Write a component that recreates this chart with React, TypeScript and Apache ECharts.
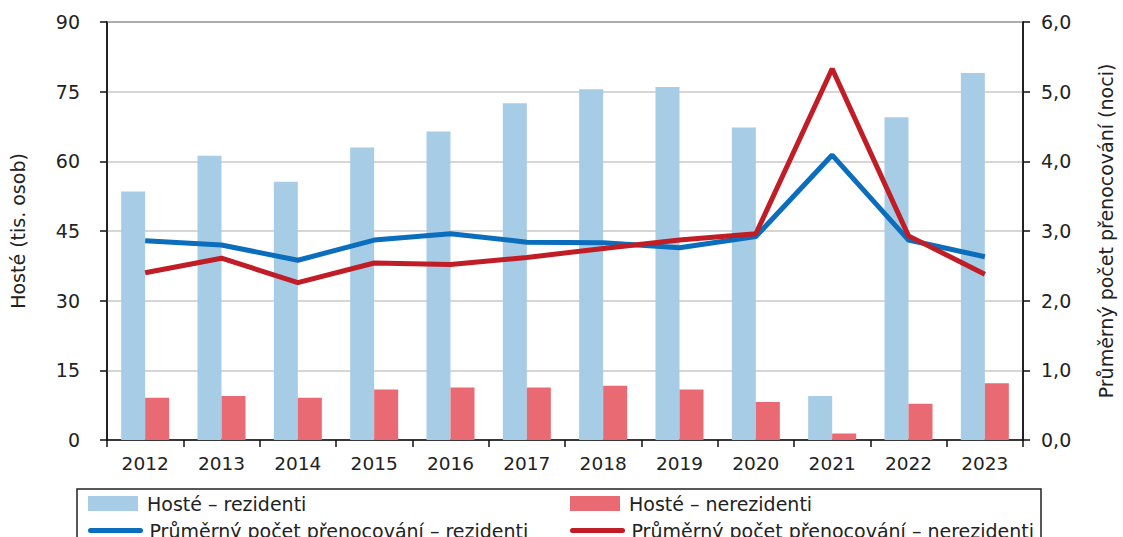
import React, { useEffect, useRef } from "react";
import * as echarts from "echarts";

const years = ["2012", "2013", "2014", "2015", "2016", "2017", "2018", "2019", "2020", "2021", "2022", "2023"];
const guestsResidents = [53.5, 61.2, 55.6, 63.0, 66.4, 72.5, 75.5, 76.0, 67.3, 9.5, 69.5, 79.0];
const guestsNonResidents = [9.1, 9.5, 9.1, 10.9, 11.3, 11.3, 11.7, 10.9, 8.2, 1.4, 7.8, 12.2];
const nightsResidents = [2.86, 2.8, 2.58, 2.87, 2.96, 2.84, 2.83, 2.76, 2.92, 4.09, 2.87, 2.63];
const nightsNonResidents = [2.4, 2.61, 2.26, 2.54, 2.52, 2.62, 2.75, 2.87, 2.96, 5.33, 2.93, 2.38];

const nameGR = "Hosté – rezidenti";
const nameGN = "Hosté – nerezidenti";
const nameNR = "Průměrný počet přenocování – rezidenti";
const nameNN = "Průměrný počet přenocování – nerezidenti";

const FONT = "DejaVu Sans";
const TXT = "#222";

export default function App() {
  const ref = useRef<HTMLDivElement>(null);
  useEffect(() => {
    if (!ref.current) return;
    const chart = echarts.init(ref.current, null, { renderer: "svg" });
    const legendBase = {
      orient: "horizontal",
      padding: 0,
      itemWidth: 50,
      itemHeight: 15,
      textStyle: { fontFamily: FONT, fontSize: 19, lineHeight: 16, color: TXT, padding: [0, 0, 0, 4] },
    };
    chart.setOption({
      animation: false,
      backgroundColor: "#fff",
      textStyle: { fontFamily: FONT, color: TXT },
      grid: {
        left: 101,
        right: 86,
        top: 22,
        bottom: 97,
        show: true,
        borderColor: "#222",
        borderWidth: 1.5,
        backgroundColor: "transparent",
      },
      legend: [
        { ...legendBase, left: 88, top: 494, data: [{ name: nameGR, icon: "rect" }] },
        { ...legendBase, left: 570, top: 494, data: [{ name: nameGN, icon: "rect" }] },
        {
          ...legendBase,
          left: 88,
          top: 521,
          data: [{ name: nameNR, itemStyle: { opacity: 0 }, lineStyle: { width: 5, cap: "round" } }],
        },
        {
          ...legendBase,
          left: 570,
          top: 521,
          data: [{ name: nameNN, itemStyle: { opacity: 0 }, lineStyle: { width: 5, cap: "round" } }],
        },
      ],
      graphic: [
        {
          type: "rect",
          shape: { x: 77, y: 489, width: 964, height: 60 },
          style: { fill: "none", stroke: "#222", lineWidth: 1.5 },
          silent: true,
        },
      ],
      xAxis: {
        type: "category",
        data: years,
        axisLine: { lineStyle: { color: "#111", width: 1.5 } },
        axisTick: { show: true, length: 7, lineStyle: { color: "#111", width: 1.5 } },
        axisLabel: { fontFamily: FONT, fontSize: 18.5, color: TXT, margin: 14 },
        splitLine: { show: false },
      },
      yAxis: [
        {
          type: "value",
          min: 0,
          max: 90,
          interval: 15,
          name: "Hosté (tis. osob)",
          nameLocation: "middle",
          nameRotate: 90,
          nameGap: 80,
          nameTextStyle: { fontFamily: FONT, fontSize: 19, color: TXT },
          axisLine: { show: true, lineStyle: { color: "#111", width: 1.5 } },
          axisTick: { show: true, length: 7, lineStyle: { color: "#111", width: 1.5 } },
          axisLabel: { fontFamily: FONT, fontSize: 19, color: TXT, margin: 27 },
          splitLine: { show: true, lineStyle: { color: "#c8c8c8", width: 1.5 } },
        },
        {
          type: "value",
          min: 0,
          max: 6,
          interval: 1,
          position: "right",
          name: "Průměrný počet přenocování (noci)",
          nameLocation: "middle",
          nameRotate: 90,
          nameGap: 73,
          nameTextStyle: { fontFamily: FONT, fontSize: 19, color: TXT },
          axisLine: { show: true, lineStyle: { color: "#111", width: 1.5 } },
          axisTick: { show: true, length: 7, lineStyle: { color: "#111", width: 1.5 } },
          axisLabel: {
            fontFamily: FONT,
            fontSize: 19,
            color: TXT,
            margin: 18,
            formatter: (v: number) => v.toFixed(1).replace(".", ","),
          },
          splitLine: { show: false },
        },
      ],
      series: [
        {
          name: nameGR,
          type: "bar",
          data: guestsResidents,
          barWidth: 24,
          barGap: "0%",
          itemStyle: { color: "#a7cce6" },
        },
        {
          name: nameGN,
          type: "bar",
          data: guestsNonResidents,
          barWidth: 24,
          barGap: "0%",
          itemStyle: { color: "#e96a72" },
        },
        {
          name: nameNR,
          type: "line",
          yAxisIndex: 1,
          data: nightsResidents,
          symbol: "none",
          lineStyle: { color: "#0a6ebd", width: 5 },
          itemStyle: { color: "#0a6ebd" },
        },
        {
          name: nameNN,
          type: "line",
          yAxisIndex: 1,
          data: nightsNonResidents,
          symbol: "none",
          lineStyle: { color: "#c01d27", width: 5 },
          itemStyle: { color: "#c01d27" },
        },
      ],
    });
    return () => chart.dispose();
  }, []);
  return (
    <div
      ref={ref}
      style={{ position: "fixed", left: 0, top: 0, width: 1123, height: 537 }}
    />
  );
}
